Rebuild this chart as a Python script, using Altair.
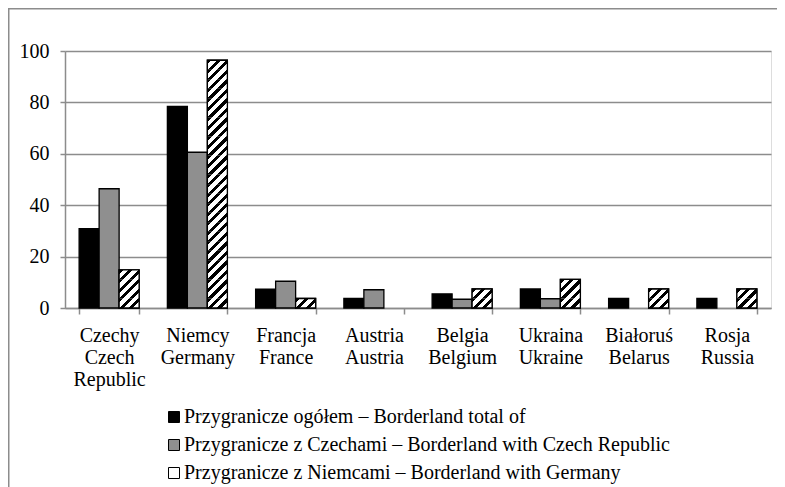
import altair as alt
import pandas as pd

# ---- data ----
categories = ["Czechy|Czech|Republic", "Niemcy|Germany", "Francja|France", "Austria|Austria",
              "Belgia|Belgium", "Ukraina|Ukraine", "Białoruś|Belarus", "Rosja|Russia"]
series = ["Przygranicze ogółem – Borderland total of",
          "Przygranicze z Czechami – Borderland with Czech Republic",
          "Przygranicze z Niemcami – Borderland with Germany"]
total_vals = [30.9, 78.4, 7.3, 3.7, 5.5, 7.4, 3.7, 3.7]
czech_vals = [46.4, 60.6, 10.4, 7.1, 3.4, 3.6, 0.0, 0.0]
germany_vals = [14.8, 96.4, 3.7, 0.0, 7.4, 11.1, 7.4, 7.4]
y_ticks = [0, 20, 40, 60, 80, 100]

# ---- tables built from the arrays ----
rows = []
for s, vals in zip(series, [total_vals, czech_vals, germany_vals]):
    for c, v in zip(categories, vals):
        if v > 0:
            rows.append({"cat": c, "series": s, "value": v})
df = pd.DataFrame(rows)

# hatch segments for the third series (pattern tiles stacked inside each bar)
unit = 100 / 27
seg_rows = []
for c, v in zip(categories, germany_vals):
    if v > 0:
        n = max(1, round(v / unit))
        for k in range(n):
            seg_rows.append({"cat": c, "series": series[2], "lo": k * v / n, "hi": (k + 1) * v / n})
seg = pd.DataFrame(seg_rows)

FONT = "Times New Roman, Liberation Serif, serif"
FS = 20
GRID = "#8c8c8c"

# diagonal hatch as a linear gradient per tile (tile ~20 x 9.5 px)
w, h = 20.0, 9.52
k = (w + h) / (w * w + h * h)
period = h / (w + h)
stops = [alt.GradientStop(color="white", offset=0)]
t = -period
while t < 1:
    a, b = t, t + 0.45 * period
    for off, col in [(a, "white"), (a, "black"), (b, "black"), (b, "white")]:
        if 0 <= off <= 1:
            stops.append(alt.GradientStop(color=col, offset=off))
    t += period
stops.append(alt.GradientStop(color="white", offset=1))
hatch = alt.LinearGradient(gradient="linear", stops=stops, x1=0, y1=0, x2=k * w, y2=k * h)

W, H = 706, 257
PAD = {"left": 57, "top": 43, "right": 6, "bottom": 179}

x_enc = alt.X("cat:N", sort=categories,
              scale=alt.Scale(domain=categories, paddingInner=0.32, paddingOuter=0.16),
              axis=alt.Axis(title=None, labelExpr="split(datum.label, '|')", labelAngle=0,
                            tickBand="extent", tickSize=6, tickColor=GRID, tickWidth=1.5,
                            domainColor=GRID, domainWidth=1.5, labelFont=FONT, labelFontSize=FS,
                            labelColor="black", labelPadding=11, labelLineHeight=22, grid=False))
xo_enc = alt.XOffset("series:N", sort=series, scale=alt.Scale(domain=series))

bars = alt.Chart(df).mark_bar(stroke="black", strokeWidth=1.3).encode(
    x=x_enc,
    xOffset=xo_enc,
    y=alt.Y("value:Q", scale=alt.Scale(domain=[0, 100], nice=False),
            axis=alt.Axis(title=None, values=y_ticks, grid=True, gridColor=GRID, gridWidth=1.5,
                          domainColor=GRID, domainWidth=1.5, tickColor=GRID, tickWidth=1.5,
                          tickSize=5, labelFont=FONT, labelFontSize=FS, labelColor="black",
                          labelPadding=11)),
    fill=alt.Fill("series:N", sort=series,
                  scale=alt.Scale(domain=series, range=["black", "#8f8f8f", "white"]),
                  legend=alt.Legend(title=None, orient="none", legendX=99, legendY=356,
                                    direction="vertical", symbolType="square", symbolSize=121,
                                    symbolStrokeColor="black", symbolStrokeWidth=1,
                                    labelFont=FONT, labelFontSize=FS, labelColor="black",
                                    labelOffset=0, rowPadding=8, padding=0, labelLimit=800)),
)

hatch_layer = alt.Chart(seg).mark_bar(fill=hatch, strokeWidth=0).encode(
    x=alt.X("cat:N", sort=categories),
    xOffset=alt.XOffset("series:N", sort=series),
    y=alt.Y("lo:Q"),
    y2="hi:Q",
)

outline = alt.Chart(df[df["series"] == series[2]]).mark_bar(
    fillOpacity=0, stroke="black", strokeWidth=1.3).encode(
    x=alt.X("cat:N", sort=categories),
    xOffset=alt.XOffset("series:N", sort=series),
    y=alt.Y("value:Q"),
)

frame = alt.Chart(pd.DataFrame({"f": [0]})).mark_rect(
    fillOpacity=0, stroke=GRID, strokeWidth=1.5).encode(
    x=alt.value(-PAD["left"] + 0.75), x2=alt.value(W + PAD["right"] + 20),
    y=alt.value(-PAD["top"] + 0.75), y2=alt.value(H + PAD["bottom"] + 20),
)

chart = alt.layer(bars, hatch_layer, outline, frame).properties(
    width=W, height=H, padding=PAD,
    autosize=alt.AutoSizeParams(type="none"),
).configure_view(strokeWidth=0).configure(background="white")

chart.save("out.html", embed_options={"renderer": "svg", "actions": False})
